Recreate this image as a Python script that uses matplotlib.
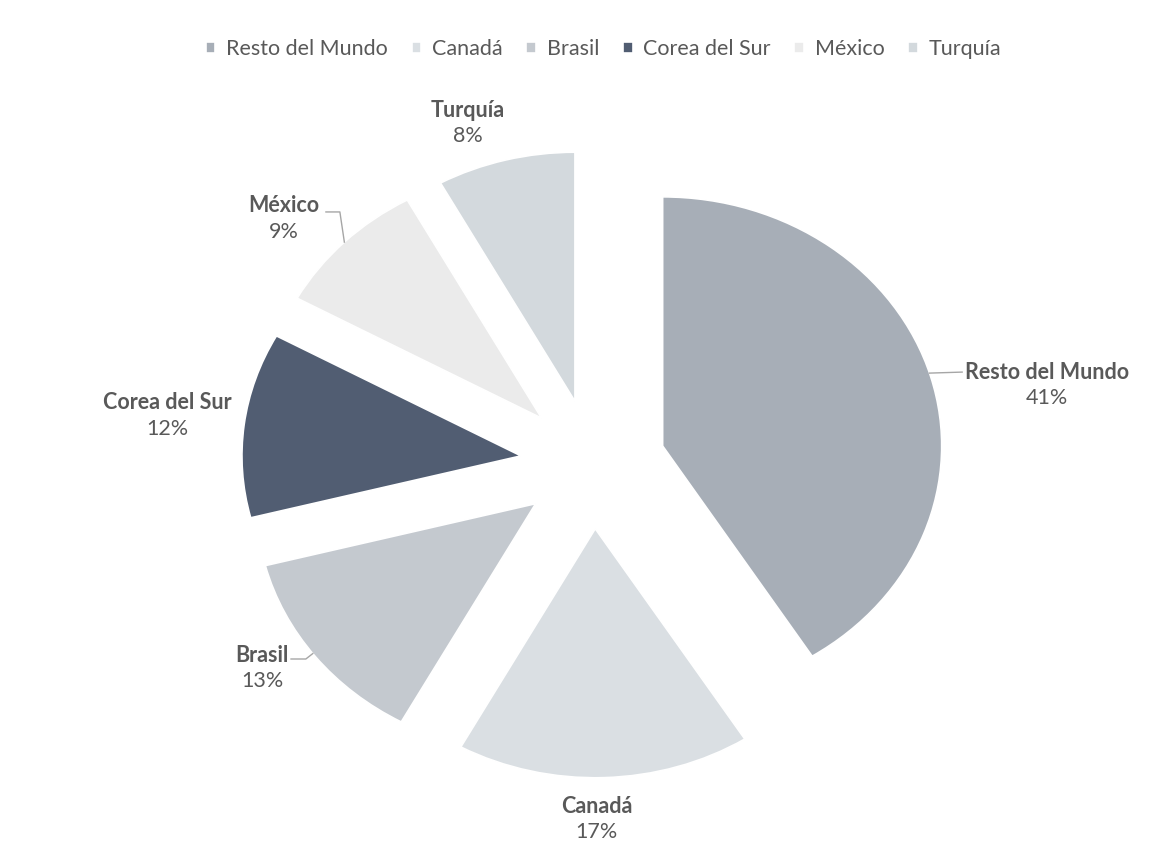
import matplotlib.pyplot as plt
import numpy as np

# shares by origin (%)
paises = ['Resto del Mundo', 'Canadá', 'Brasil', 'Corea del Sur', 'México', 'Turquía']
valores = [41, 17, 13, 12, 9, 8]
colores = ['#a7aeb7', '#dadfe3', '#c4c9cf', '#515d72', '#ebebeb', '#d3d9dd']

# label centres (axes data units) and leader lines
pos_etiquetas = [(1.627, 0.317), (0.014, -1.426), (-1.186, -0.819),
                 (-1.527, 0.193), (-1.108, 0.984), (-0.448, 1.369)]

plt.rcParams['font.family'] = ['Lato', 'DejaVu Sans']
gris = '#595959'

fig = plt.figure(figsize=(11.72, 8.57), dpi=100)
ax = fig.add_axes([0, 0, 1, 1])

wedges, _ = ax.pie(valores, colors=colores, startangle=90, counterclock=False,
                   explode=[0.26] * len(valores), radius=1,
                   wedgeprops=dict(edgecolor='white', linewidth=1.2))

# stretch the pie horizontally
ax.set_aspect('auto')
ax.set_xlim(-2.125, 2.075)
ax.set_ylim(-1.578, 1.863)
ax.axis('off')

for nombre, v, (x, y) in zip(paises, valores, pos_etiquetas):
    ax.text(x, y + 0.052, nombre, ha='center', va='center', fontsize=15.5,
            fontweight='bold', color=gris)
    ax.text(x, y - 0.052, '{}%'.format(v), ha='center', va='center',
            fontsize=15.5, color=gris)


def punto_arco(w, ang):
    cx, cy = w.center
    a = np.deg2rad(ang)
    return cx + w.r * np.cos(a), cy + w.r * np.sin(a)


lineas = {
    0: [punto_arco(wedges[0], 17), (1.323, 0.369)],
    4: [(-0.957, 1.012), (-0.907, 1.012), punto_arco(wedges[4], 135)],
    2: [(-1.082, -0.783), (-1.029, -0.783), punto_arco(wedges[2], -143)],
}
for i, pts in lineas.items():
    xs, ys = zip(*pts)
    ax.plot(xs, ys, color='#a6a6a6', linewidth=1)

fig.legend(wedges, paises, loc='center', bbox_to_anchor=(0.515, 1 - 49 / 857),
           ncol=6, frameon=False, fontsize=15.5, labelcolor=gris,
           handlelength=0.45, handleheight=0.45, handletextpad=0.5,
           columnspacing=1.1)

fig.savefig('out.png', dpi=100, facecolor='white')
